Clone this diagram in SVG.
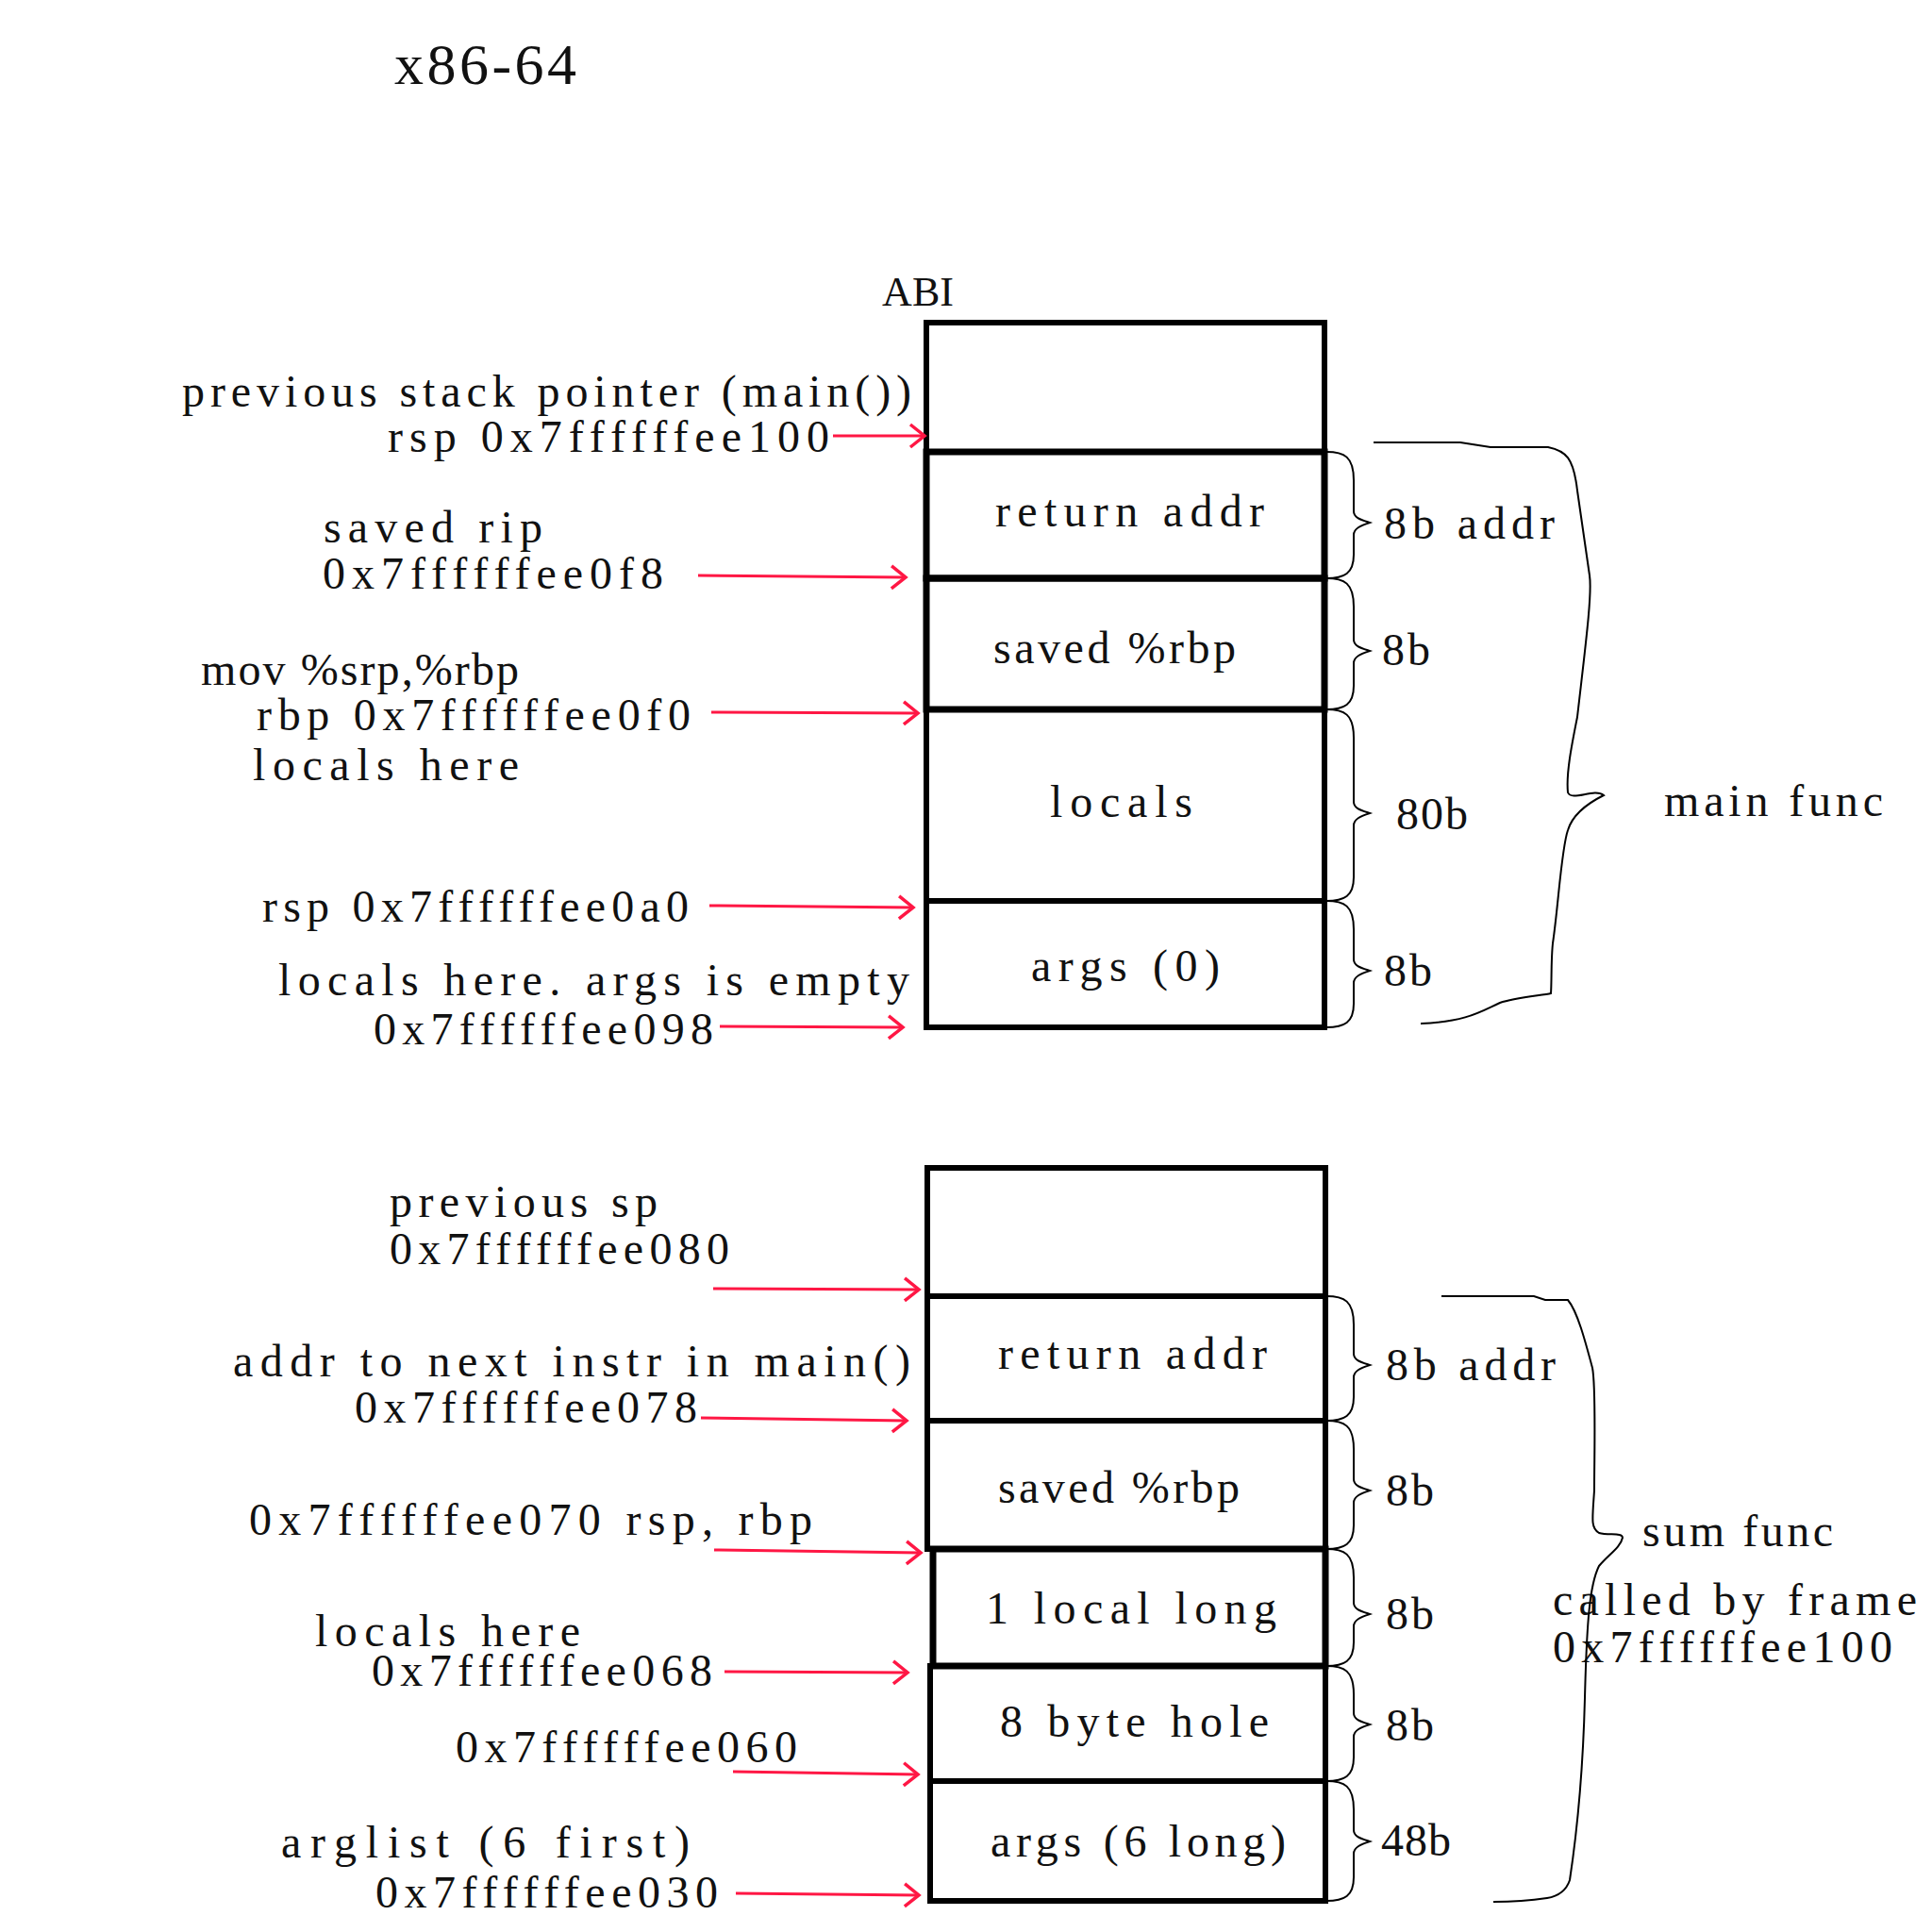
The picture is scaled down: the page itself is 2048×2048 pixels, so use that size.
<svg xmlns="http://www.w3.org/2000/svg" width="2048" height="2048" viewBox="0 0 2048 2048">
<style>
text{font-family:"Liberation Serif","Noto Serif",serif;font-size:48px;fill:#111}
.cell{fill:none;stroke:#000;stroke-width:6}
.arr{stroke:#ff1744;stroke-width:3;fill:none;marker-end:url(#ah)}
.brace{fill:none;stroke:#000;stroke-width:2}
</style>
<defs>
<marker id="ah" markerWidth="20" markerHeight="28" refX="17" refY="14" orient="auto" markerUnits="userSpaceOnUse">
<path d="M2,2 L17,14 L2,26" fill="none" stroke="#ff1744" stroke-width="3.5"/>
</marker>
</defs>
<rect width="2048" height="2048" fill="#fff"/>
<text x="418" y="89" style="font-size:62px" textLength="193" lengthAdjust="spacing">x86-64</text>
<text x="935" y="324" style="font-size:44px" textLength="76" lengthAdjust="spacing">ABI</text>

<g id="main-prev"><rect class="cell" x="982" y="342" width="422" height="137"/></g>
<g id="main-ret"><rect class="cell" x="982" y="479" width="422" height="134" style="stroke-width:7"/><text x="1055" y="558" textLength="285" lengthAdjust="spacing">return addr</text></g>
<g id="main-rbp"><rect class="cell" x="982" y="613" width="422" height="139" style="stroke-width:7"/><text x="1053" y="703" textLength="257" lengthAdjust="spacing">saved %rbp</text></g>
<g id="main-locals"><rect class="cell" x="982" y="752" width="422" height="203"/><text x="1113" y="866" textLength="151" lengthAdjust="spacing">locals</text></g>
<g id="main-args"><rect class="cell" x="982" y="955" width="422" height="134"/><text x="1093" y="1040" textLength="200" lengthAdjust="spacing">args (0)</text></g>

<g id="sum-prev"><rect class="cell" x="983" y="1238" width="422" height="136"/></g>
<g id="sum-ret"><rect class="cell" x="983" y="1374" width="422" height="132"/><text x="1058" y="1451" textLength="285" lengthAdjust="spacing">return addr</text></g>
<g id="sum-rbp"><rect class="cell" x="983" y="1506" width="422" height="136"/><text x="1058" y="1593" textLength="256" lengthAdjust="spacing">saved %rbp</text></g>
<g id="sum-local"><rect class="cell" x="989" y="1642" width="416" height="124" style="stroke-width:7"/><text x="1045" y="1721" textLength="308" lengthAdjust="spacing">1 local long</text></g>
<g id="sum-hole"><rect class="cell" x="986" y="1766" width="419" height="122"/><text x="1060" y="1841" textLength="285" lengthAdjust="spacing">8 byte hole</text></g>
<g id="sum-args"><rect class="cell" x="986" y="1888" width="419" height="127"/><text x="1050" y="1968" textLength="313" lengthAdjust="spacing">args (6 long)</text></g>

<g id="labels-left">
<text x="193" y="431" textLength="773" lengthAdjust="spacing">previous stack pointer (main())</text>
<text x="411" y="479" textLength="468" lengthAdjust="spacing">rsp 0x7ffffffee100</text>
<text x="343" y="575" textLength="232" lengthAdjust="spacing">saved rip</text>
<text x="342" y="624" textLength="361" lengthAdjust="spacing">0x7ffffffee0f8</text>
<text x="213" y="726" textLength="337" lengthAdjust="spacing">mov %srp,%rbp</text>
<text x="272" y="774" textLength="460" lengthAdjust="spacing">rbp 0x7ffffffee0f0</text>
<text x="268" y="827" textLength="282" lengthAdjust="spacing">locals here</text>
<text x="278" y="977" textLength="452" lengthAdjust="spacing">rsp 0x7ffffffee0a0</text>
<text x="295" y="1055" textLength="669" lengthAdjust="spacing">locals here. args is empty</text>
<text x="396" y="1107" textLength="360" lengthAdjust="spacing">0x7ffffffee098</text>
<text x="413" y="1290" textLength="284" lengthAdjust="spacing">previous sp</text>
<text x="413" y="1340" textLength="360" lengthAdjust="spacing">0x7ffffffee080</text>
<text x="247" y="1459" textLength="718" lengthAdjust="spacing">addr to next instr in main()</text>
<text x="376" y="1508" textLength="363" lengthAdjust="spacing">0x7ffffffee078</text>
<text x="264" y="1627" textLength="597" lengthAdjust="spacing">0x7ffffffee070 rsp, rbp</text>
<text x="334" y="1745" textLength="281" lengthAdjust="spacing">locals here</text>
<text x="394" y="1787" textLength="361" lengthAdjust="spacing">0x7ffffffee068</text>
<text x="483" y="1868" textLength="362" lengthAdjust="spacing">0x7ffffffee060</text>
<text x="298" y="1969" textLength="433" lengthAdjust="spacing">arglist (6 first)</text>
<text x="398" y="2022" textLength="363" lengthAdjust="spacing">0x7ffffffee030</text>
</g>

<g id="labels-right">
<text x="1467" y="571" textLength="181" lengthAdjust="spacing">8b addr</text>
<text x="1465" y="705" textLength="51" lengthAdjust="spacing">8b</text>
<text x="1480" y="879" textLength="76" lengthAdjust="spacing">80b</text>
<text x="1467" y="1045" textLength="51" lengthAdjust="spacing">8b</text>
<text x="1764" y="865" textLength="232" lengthAdjust="spacing">main func</text>
<text x="1469" y="1463" textLength="180" lengthAdjust="spacing">8b addr</text>
<text x="1469" y="1596" textLength="51" lengthAdjust="spacing">8b</text>
<text x="1469" y="1727" textLength="51" lengthAdjust="spacing">8b</text>
<text x="1469" y="1845" textLength="51" lengthAdjust="spacing">8b</text>
<text x="1464" y="1967" textLength="74" lengthAdjust="spacing">48b</text>
<text x="1741" y="1639" textLength="202" lengthAdjust="spacing">sum func</text>
<text x="1646" y="1712" textLength="386" lengthAdjust="spacing">called by frame</text>
<text x="1646" y="1762" textLength="360" lengthAdjust="spacing">0x7ffffffee100</text>
</g>

<g id="braces">
<path class="brace" d="M1406,479 C1425,479 1435,484 1435,509 L1435,542 C1435,549 1443,551 1452,554 C1443,557 1435,560 1435,567 L1435,588 C1435,608 1425,613 1406,613"/>
<path class="brace" d="M1406,613 C1425,613 1435,618 1435,643 L1435,678 C1435,685 1443,687 1452,690 C1443,693 1435,696 1435,703 L1435,727 C1435,747 1425,752 1406,752"/>
<path class="brace" d="M1406,752 C1425,752 1435,757 1435,782 L1435,850 C1435,857 1443,859 1452,862 C1443,865 1435,868 1435,875 L1435,930 C1435,950 1425,955 1406,955"/>
<path class="brace" d="M1406,955 C1425,955 1435,960 1435,985 L1435,1017 C1435,1024 1443,1026 1452,1029 C1443,1032 1435,1035 1435,1042 L1435,1064 C1435,1084 1425,1089 1406,1089"/>
<path class="brace" d="M1456,469 L1548,469 L1580,474 L1641,474 C1660,478 1668,485 1672,520 L1685,610 C1688,630 1680,690 1672,760 C1666,790 1660,820 1662,840 C1666,850 1690,835 1700,843 C1690,848 1668,860 1662,880 C1655,900 1652,960 1646,1000 C1644,1020 1645,1040 1644,1053 C1635,1055 1605,1058 1590,1063 C1570,1072 1555,1083 1506,1085"/>
<path class="brace" d="M1406,1374 C1425,1374 1435,1379 1435,1404 L1435,1435 C1435,1442 1443,1444 1452,1447 C1443,1450 1435,1453 1435,1460 L1435,1481 C1435,1501 1425,1506 1406,1506"/>
<path class="brace" d="M1406,1506 C1425,1506 1435,1511 1435,1536 L1435,1568 C1435,1575 1443,1577 1452,1580 C1443,1583 1435,1586 1435,1593 L1435,1617 C1435,1637 1425,1642 1406,1642"/>
<path class="brace" d="M1406,1642 C1425,1642 1435,1647 1435,1672 L1435,1699 C1435,1706 1443,1708 1452,1711 C1443,1714 1435,1717 1435,1724 L1435,1741 C1435,1761 1425,1766 1406,1766"/>
<path class="brace" d="M1406,1766 C1425,1766 1435,1771 1435,1796 L1435,1816 C1435,1823 1443,1825 1452,1828 C1443,1831 1435,1834 1435,1841 L1435,1863 C1435,1883 1425,1888 1406,1888"/>
<path class="brace" d="M1406,1888 C1425,1888 1435,1893 1435,1918 L1435,1940 C1435,1947 1443,1949 1452,1952 C1443,1955 1435,1958 1435,1965 L1435,1990 C1435,2010 1425,2015 1406,2015"/>
<path class="brace" d="M1528,1374 L1626,1374 L1638,1378 L1662,1378 C1672,1390 1680,1420 1688,1450 C1692,1470 1690,1540 1690,1580 C1688,1610 1686,1620 1695,1625 C1705,1628 1720,1624 1720,1630 C1718,1640 1705,1648 1695,1660 C1685,1680 1682,1720 1680,1800 C1678,1880 1672,1940 1664,1993 C1660,2005 1652,2010 1640,2012 C1620,2015 1600,2016 1583,2016"/>
</g>

<g id="connectors">
<line class="arr" x1="883" y1="462" x2="980" y2="462"/>
<line class="arr" x1="740" y1="610" x2="960" y2="612"/>
<line class="arr" x1="754" y1="755" x2="973" y2="756"/>
<line class="arr" x1="752" y1="960" x2="968" y2="962"/>
<line class="arr" x1="763" y1="1088" x2="957" y2="1089"/>
<line class="arr" x1="756" y1="1366" x2="974" y2="1367"/>
<line class="arr" x1="743" y1="1503" x2="961" y2="1506"/>
<line class="arr" x1="757" y1="1643" x2="976" y2="1646"/>
<line class="arr" x1="768" y1="1772" x2="962" y2="1773"/>
<line class="arr" x1="777" y1="1878" x2="973" y2="1881"/>
<line class="arr" x1="780" y1="2007" x2="974" y2="2009"/>
</g>
</svg>
